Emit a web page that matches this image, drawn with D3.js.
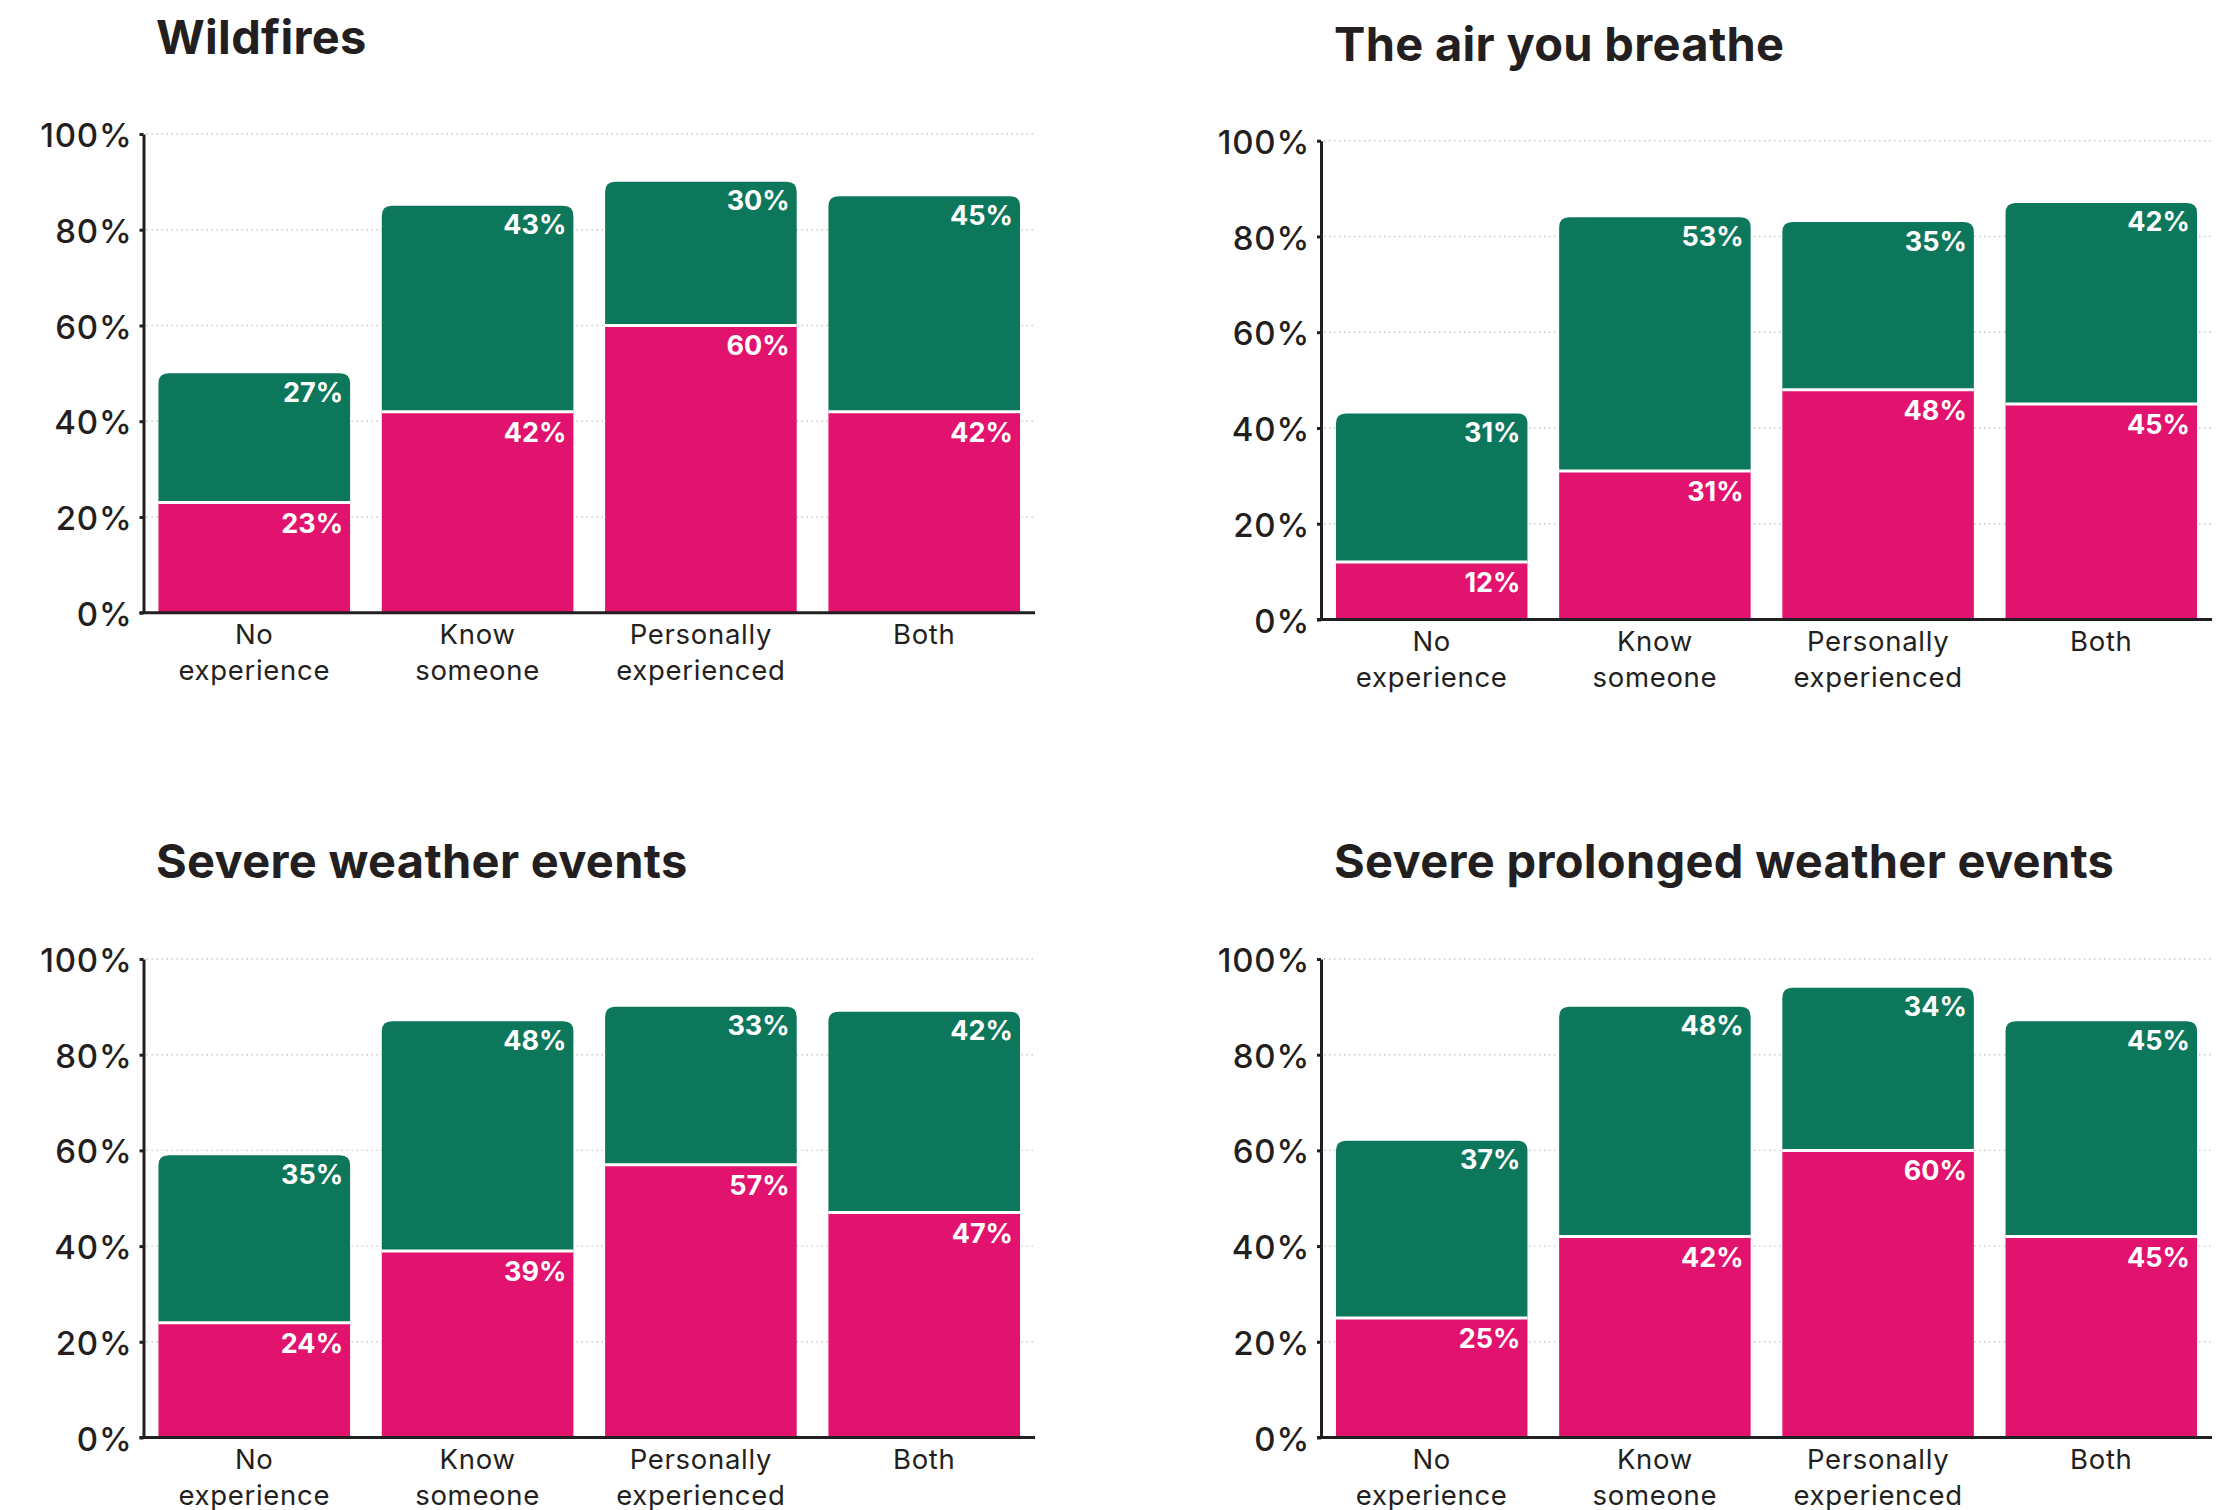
<!DOCTYPE html>
<html>
<head>
<meta charset="utf-8">
<script src="https://cdn.jsdelivr.net/npm/d3@7"></script>
<style>
  html, body { margin: 0; padding: 0; background: #ffffff; }
  svg { display: block; font-family: Inter, "Noto Sans", sans-serif; }
</style>
</head>
<body>
<svg id="chart" width="2229" height="1510"></svg>
<script>
// ---------------- DATA ----------------
const categories = [["No", "experience"], ["Know", "someone"], ["Personally", "experienced"], ["Both"]];
const yTicks = [0, 20, 40, 60, 80, 100];
const titles = ["Wildfires", "The air you breathe", "Severe weather events", "Severe prolonged weather events"];

// pink = lower segment, green = upper segment (percent)
const wildfiresPink  = [23, 42, 60, 42];
const wildfiresGreen = [27, 43, 30, 45];
const airPink  = [12, 31, 48, 45];
const airGreen = [31, 53, 35, 42];
const severePink  = [24, 39, 57, 47];
const severeGreen = [35, 48, 33, 42];
const prolongedPink  = [25, 42, 60, 42];
const prolongedGreen = [37, 48, 34, 45];
// printed labels of the lower segment in the last panel, as shown in the source
const prolongedPinkLabels = ["25%", "42%", "60%", "45%"];

// ---------------- LAYOUT ----------------
const PINK = "#E2136E", GREEN = "#0D775B", INK = "#231F20";
const panels = [
  { title: titles[0], pink: wildfiresPink, green: wildfiresGreen, x0: 143.5, x1: 1035, yTop: 134, yBot: 612.7, tx: 156, ty: 54 },
  { title: titles[1], pink: airPink, green: airGreen, x0: 1321, x1: 2212, yTop: 140.7, yBot: 619.5, tx: 1334, ty: 61 },
  { title: titles[2], pink: severePink, green: severeGreen, x0: 143.5, x1: 1035, yTop: 959, yBot: 1437.5, tx: 156, ty: 878 },
  { title: titles[3], pink: prolongedPink, green: prolongedGreen, pinkLabels: prolongedPinkLabels, x0: 1321, x1: 2212, yTop: 959, yBot: 1437.5, tx: 1334, ty: 878 }
];

const svg = d3.select("#chart");
svg.append("rect").attr("width", 2229).attr("height", 1510).attr("fill", "#fff");

panels.forEach(p => {
  const g = svg.append("g");
  const x = d3.scaleBand().domain(d3.range(categories.length)).range([p.x0, p.x1])
    .paddingInner(0.142).paddingOuter(0.067);
  const y = d3.scaleLinear().domain([0, 100]).range([p.yBot, p.yTop]);

  // title
  g.append("text").attr("x", p.tx).attr("y", p.ty)
    .attr("font-size", 47).attr("font-weight", 650).attr("fill", INK)
    .attr("letter-spacing", "0.3")
    .text(p.title);

  // gridlines
  g.append("g").selectAll("line").data(yTicks.filter(t => t > 0)).join("line")
    .attr("x1", p.x0 + 3).attr("x2", p.x1)
    .attr("y1", d => y(d)).attr("y2", d => y(d))
    .attr("stroke", "#c4c4c4").attr("stroke-width", 1.4)
    .attr("stroke-dasharray", "1.4 3.6");

  // bars
  const rows = categories.map((c, i) => ({ i, pink: p.pink[i], green: p.green[i] }));
  const bw = x.bandwidth();
  const r = 10;
  const bars = g.append("g");
  rows.forEach(d => {
    const xl = x(d.i), xr = xl + bw;
    const yTot = y(d.pink + d.green), yP = y(d.pink), y0 = y(0);
    bars.append("path")
      .attr("d", `M${xl},${yP} L${xl},${yTot + r} Q${xl},${yTot} ${xl + r},${yTot} L${xr - r},${yTot} Q${xr},${yTot} ${xr},${yTot + r} L${xr},${yP} Z`)
      .attr("fill", GREEN);
    bars.append("rect").attr("x", xl).attr("y", yP).attr("width", bw).attr("height", y0 - yP)
      .attr("fill", PINK);
    bars.append("line").attr("x1", xl).attr("x2", xr).attr("y1", yP).attr("y2", yP)
      .attr("stroke", "#fff").attr("stroke-width", 3);
    bars.append("text").attr("x", xr - 7).attr("y", yTot + 28.5)
      .attr("text-anchor", "end").attr("font-size", 27).attr("font-weight", 700).attr("fill", "#fff")
      .text(d.green + "%");
    bars.append("text").attr("x", xr - 7).attr("y", yP + 30)
      .attr("text-anchor", "end").attr("font-size", 27).attr("font-weight", 700).attr("fill", "#fff")
      .text(p.pinkLabels ? p.pinkLabels[d.i] : d.pink + "%");
  });

  // y axis
  const ya = g.append("g").attr("transform", `translate(${p.x0},0)`)
    .call(d3.axisLeft(y).tickValues(yTicks).tickSize(4).tickSizeOuter(0).tickPadding(7).tickFormat(d => d + "%"));
  ya.select(".domain").attr("stroke", INK).attr("stroke-width", 3);
  ya.selectAll(".tick line").attr("stroke", INK).attr("stroke-width", 3);
  ya.selectAll(".tick text").attr("fill", INK).attr("font-size", 33).attr("font-weight", 500)
    .attr("letter-spacing", "0.8").attr("font-family", "Inter, sans-serif")
    .attr("dy", "0.38em");

  // x axis
  const xa = g.append("g").attr("transform", `translate(0,${y(0)})`)
    .call(d3.axisBottom(x).tickSize(0).tickSizeOuter(0).tickFormat(""));
  xa.select(".domain").attr("stroke", INK).attr("stroke-width", 3)
    .attr("d", `M${p.x0 - 4},0H${p.x1}`);
  const lbl = g.append("g");
  categories.forEach((c, i) => {
    const t = lbl.append("text").attr("x", x(i) + bw / 2).attr("y", y(0) + 31.6)
      .attr("text-anchor", "middle").attr("font-size", 27.5).attr("letter-spacing", "0.7")
      .attr("fill", INK);
    c.forEach((line, k) => {
      t.append("tspan").attr("x", x(i) + bw / 2).attr("dy", k === 0 ? 0 : 35.7).text(line);
    });
  });
});
</script>
</body>
</html>
